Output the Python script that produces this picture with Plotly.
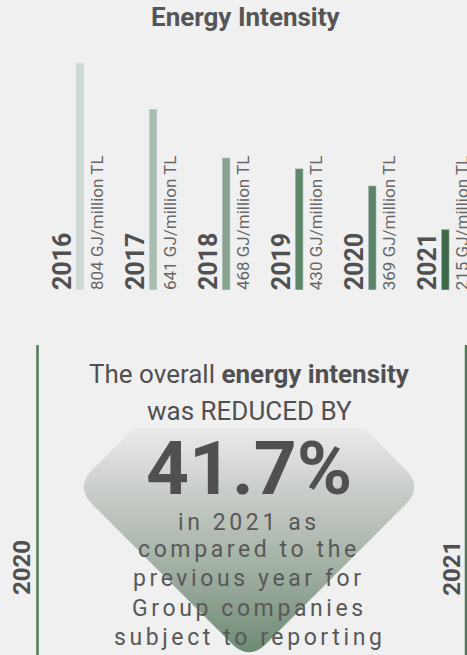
import math
import plotly.graph_objects as go

# ---------------- data ----------------
years = ["2016", "2017", "2018", "2019", "2020", "2021"]
intensity = [804, 641, 468, 430, 369, 215]
unit_label = "GJ/million TL"
bar_colors = ["#cdd8d2", "#a9bdb0", "#87a28f", "#5e8669", "#5b8468", "#3e6a4b"]

title_text = "Energy Intensity"
headline_lines = ["The overall <b>energy intensity</b>", "was REDUCED BY"]
reduction_text = "41.7%"
detail_lines = ["in 2021 as", "compared to the", "previous year for",
                "Group companies", "subject to reporting"]
side_years = ["2020", "2021"]

W, H = 467, 655
FONT = "Roboto"
DARK = "#505050"
GREEN_LINE = "#4d7a5a"


def px(x):
    return x / W


def py(y):
    return 1 - y / H


fig = go.Figure()

# bars
fig.add_trace(go.Bar(x=years, y=intensity, marker_color=bar_colors, width=0.11,
                     xaxis="x", yaxis="y", hoverinfo="skip", showlegend=False))


# decorative rounded diamond (pixel coordinates on an overlay subplot)
def rounded_polygon(verts, radii, n=12):
    out_x, out_y = [], []
    m = len(verts)
    for i in range(m):
        p_prev = verts[i - 1]
        v = verts[i]
        p_next = verts[(i + 1) % m]
        r = radii[i]
        d1 = (p_prev[0] - v[0], p_prev[1] - v[1])
        d2 = (p_next[0] - v[0], p_next[1] - v[1])
        l1 = math.hypot(*d1)
        l2 = math.hypot(*d2)
        u1 = (d1[0] / l1, d1[1] / l1)
        u2 = (d2[0] / l2, d2[1] / l2)
        a0 = (v[0] + u1[0] * r, v[1] + u1[1] * r)
        a2 = (v[0] + u2[0] * r, v[1] + u2[1] * r)
        for k in range(n + 1):
            t = k / n
            bx = (1 - t) ** 2 * a0[0] + 2 * (1 - t) * t * v[0] + t ** 2 * a2[0]
            by = (1 - t) ** 2 * a0[1] + 2 * (1 - t) * t * v[1] + t ** 2 * a2[1]
            out_x.append(bx)
            out_y.append(by)
    out_x.append(out_x[0])
    out_y.append(out_y[0])
    return out_x, out_y


cx, cy, half, top_cut = 249, 487, 174, 428
cut_half = half - (cy - top_cut)
verts = [(cx - cut_half, top_cut), (cx - half, cy), (cx, cy + half),
         (cx + half, cy), (cx + cut_half, top_cut)]
dx, dy = rounded_polygon(verts, [6, 25, 25, 25, 6])
fig.add_trace(go.Scatter(
    x=dx, y=dy, mode="none", fill="toself",
    fillgradient=dict(type="vertical", start=655, stop=428,
                      colorscale=[[0, "#6a8a71"], [0.24, "#8ea192"], [0.42, "#a6b3a7"],
                                  [0.73, "#caceca"], [1, "#ebebe9"]]),
    xaxis="x2", yaxis="y2", hoverinfo="skip", showlegend=False))

annotations = []
# title
annotations.append(dict(text=f"<b>{title_text}</b>", x=px(246), y=py(17), xref="paper", yref="paper",
                        showarrow=False, font=dict(family=FONT, size=26, color="#555555"),
                        xanchor="center", yanchor="middle"))
# bar labels (x on the category axis, anchored at the bars' base line)
base_paper = py(290)
for i, (yr, v) in enumerate(zip(years, intensity)):
    annotations.append(dict(text=f"<b>{yr}</b>", x=i, y=base_paper, xref="x", yref="paper",
                            textangle=-90, xanchor="center", yanchor="bottom",
                            xshift=-17.5, yshift=-2,
                            showarrow=False, font=dict(family=FONT, size=25, color=DARK)))
    annotations.append(dict(text=f"{v} {unit_label}", x=i, y=base_paper, xref="x", yref="paper",
                            textangle=-90, xanchor="center", yanchor="bottom",
                            xshift=16.5, yshift=-2,
                            showarrow=False, font=dict(family=FONT, size=17, color="#666666")))
# headline
for line, ycen in zip(headline_lines, [374, 411]):
    annotations.append(dict(text=line, x=px(249), y=py(ycen), xref="paper", yref="paper",
                            showarrow=False, font=dict(family=FONT, size=26, color=DARK),
                            xanchor="center", yanchor="middle"))
annotations.append(dict(text=f"<b>{reduction_text}</b>", x=px(249), y=py(468), xref="paper", yref="paper",
                        showarrow=False, font=dict(family=FONT, size=75, color=DARK),
                        xanchor="center", yanchor="middle", height=70))
for line, base in zip(detail_lines, [530, 557, 586, 616.5, 645]):
    annotations.append(dict(text=f'<span style="letter-spacing:3.6px">{line}</span>',
                            x=px(249), y=py(base - 8), xref="paper", yref="paper",
                            showarrow=False, font=dict(family=FONT, size=23, color="#585858"),
                            xanchor="center", yanchor="middle"))
# side years
for yr, xc in zip(side_years, [22, 451.7]):
    annotations.append(dict(text=f"<b>{yr}</b>", x=px(xc), y=py(568), xref="paper", yref="paper",
                            textangle=-90, showarrow=False,
                            font=dict(family=FONT, size=24, color=DARK),
                            xanchor="center", yanchor="middle"))

shapes = [
    dict(type="line", xref="paper", yref="paper", x0=px(37.5), x1=px(37.5), y0=py(345), y1=0,
         line=dict(color=GREEN_LINE, width=2.5)),
    dict(type="line", xref="paper", yref="paper", x0=px(466), x1=px(466), y0=py(345), y1=0,
         line=dict(color=GREEN_LINE, width=2.5)),
]

fig.update_layout(
    width=W, height=H,
    margin=dict(l=0, r=0, t=0, b=0, pad=0, autoexpand=False),
    paper_bgcolor="#f0f0f0", plot_bgcolor="rgba(0,0,0,0)",
    showlegend=False,
    xaxis=dict(type="category", range=[-1.095, 5.297], domain=[0, 1], visible=False, fixedrange=True),
    yaxis=dict(range=[0, 804], domain=[py(290), py(63)], visible=False, fixedrange=True),
    xaxis2=dict(range=[0, W], domain=[0, 1], anchor="y2", visible=False, fixedrange=True),
    yaxis2=dict(range=[H, 0], domain=[0, 1], anchor="x2", visible=False, fixedrange=True),
    annotations=annotations,
    shapes=shapes,
)

fig.write_html("out.html", config={"displayModeBar": False})
